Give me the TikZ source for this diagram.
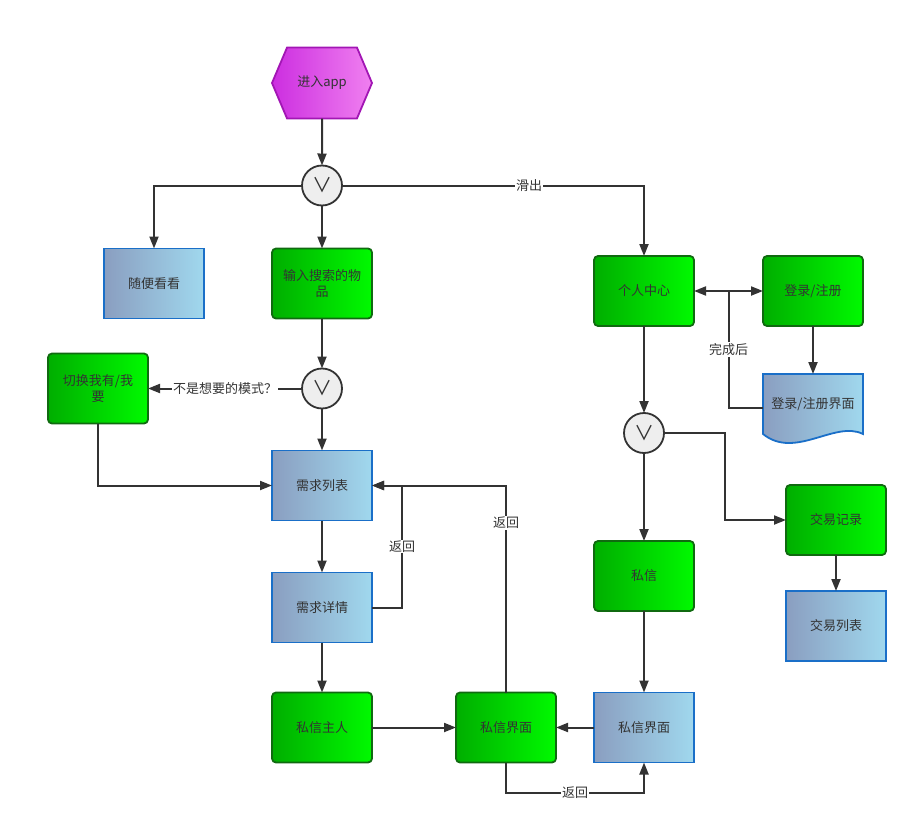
\documentclass[tikz,border=0pt]{standalone}
\usepackage{fontspec}
\setmainfont{Noto Sans CJK SC}
\usepackage{xcolor}
\usepackage{tikz}
\usetikzlibrary{arrows.meta,positioning,calc,shapes.symbols,backgrounds}

\definecolor{ink}{HTML}{333333}
\definecolor{grnL}{HTML}{00AE00}
\definecolor{grnR}{HTML}{00FA00}
\definecolor{grnEdge}{HTML}{106A10}
\definecolor{bluL}{HTML}{8A9EC0}
\definecolor{bluR}{HTML}{A0D8EE}
\definecolor{bluEdge}{HTML}{1A6FC8}
\definecolor{hexL}{HTML}{CC2EE0}
\definecolor{hexR}{HTML}{F080F0}
\definecolor{hexEdge}{HTML}{A216B4}
\definecolor{gateFill}{HTML}{EEEEEE}

\begin{document}
\begin{tikzpicture}[
  x=1pt, y=-1pt,
  font=\fontsize{13}{16}\selectfont, text=ink,
  every node/.append style={outer sep=0pt},
  >={Triangle[length=12pt,width=9pt]},
  greenbox/.style={draw=grnEdge, line width=1.8pt, rounded corners=4pt,
                   left color=grnL, right color=grnR, align=center,
                   minimum width=100pt, minimum height=70pt},
  bluebox/.style={draw=bluEdge, line width=1.8pt, left color=bluL,
                  right color=bluR, align=center,
                  minimum width=100pt, minimum height=70pt},
  docbox/.style={align=center, minimum width=100pt, minimum height=60pt},
  hexbox/.style={signal, signal to=west and east, signal pointer angle=134,
                 draw=hexEdge, line width=1.8pt, left color=hexL,
                 right color=hexR, minimum width=100pt, minimum height=71pt},
  gate/.style={circle, draw=ink, line width=1.8pt, fill=gateFill,
               minimum size=40pt, inner sep=0pt,
               font=\fontsize{20}{20}\selectfont},
  arrow/.style={->, draw=ink, line width=2pt},
  line/.style={draw=ink, line width=2pt},
  lbl/.style={fill=white, inner sep=1pt}
]
\useasboundingbox (0,0) rectangle (918,824);

\node[hexbox] (start) at (322,83) {进入app};
\node[gate, below=47pt of start] (g1) {∨};
\node[greenbox, below=43pt of g1] (search) {输入搜索的物\\品};
\node[bluebox, left=68pt of search] (browse) {随便看看};
\node[gate, below=50pt of search] (g2) {∨};
\node[greenbox, left=154pt of g2] (swap) {切换我有/我\\要};
\node[bluebox, below=42pt of g2] (list) {需求列表};
\node[bluebox, below=52pt of list] (detail) {需求详情};
\node[greenbox, below=50pt of detail] (ask) {私信主人};
\node[greenbox, right=84pt of ask] (chatA) {私信界面};
\node[bluebox, right=38pt of chatA] (chatB) {私信界面};
\node[greenbox] (me) at (644,291) {个人中心};
\node[greenbox, right=69pt of me] (login) {登录/注册};
\node[docbox, below=48pt of login] (loginpg) {登录/注册界面};
\node[gate, below=87pt of me] (g3) {∨};
\node[greenbox, below=88pt of g3] (msg) {私信};
\node[greenbox] (trade) at (836,520) {交易记录};
\node[bluebox, below=36pt of trade] (tlist) {交易列表};

% wavy page behind its text
\begin{scope}[on background layer]
\shadedraw[left color=bluL, right color=bluR, draw=bluEdge, line width=1.8pt]
  (loginpg.north west) -- (loginpg.north east) -- (loginpg.south east)
  .. controls +(-28,-14) and +(32,26) .. (loginpg.south west) -- cycle;
\end{scope}

\draw[arrow] (start) -- (g1);
\draw[arrow] (g1) -| (browse);
\draw[arrow] (g1) -- (search);
\draw[arrow] (g1) -| node[pos=.31, lbl] {滑出} (me);
\draw[arrow] (search) -- (g2);
\draw[arrow] (g2) -- node[lbl] {不是想要的模式？} (swap);
\draw[arrow] (g2) -- (list);
\draw[arrow] (swap) |- (list);
\draw[arrow] (list) -- (detail);
\draw[arrow] (detail.east) -- ++(30,0) |- node[pos=.25, lbl] {返回} (list.east);
\draw[arrow] (chatA) |- node[pos=.41, lbl] {返回} (list.east);
\draw[arrow] (detail) -- (ask);
\draw[arrow] (ask) -- (chatA);
\draw[arrow] (chatB) -- (chatA);
\draw[arrow] (chatA.south) -- ++(0,30) -| node[pos=.25, lbl] {返回} (chatB.south);
\draw[arrow, <->] (me) -- (login);
\draw[arrow] (login) -- (loginpg);
\draw[line] ([yshift=-4pt]loginpg.west) -| node[pos=.75, lbl] {完成后}
  ($(me.east)!.5!(login.west)$);
\draw[arrow] (me) -- (g3);
\draw[arrow] (g3.east) -- ++(61,0) |- (trade.west);
\draw[arrow] (g3) -- (msg);
\draw[arrow] (msg) -- (chatB);
\draw[arrow] (trade) -- (tlist);
\end{tikzpicture}
\end{document}
